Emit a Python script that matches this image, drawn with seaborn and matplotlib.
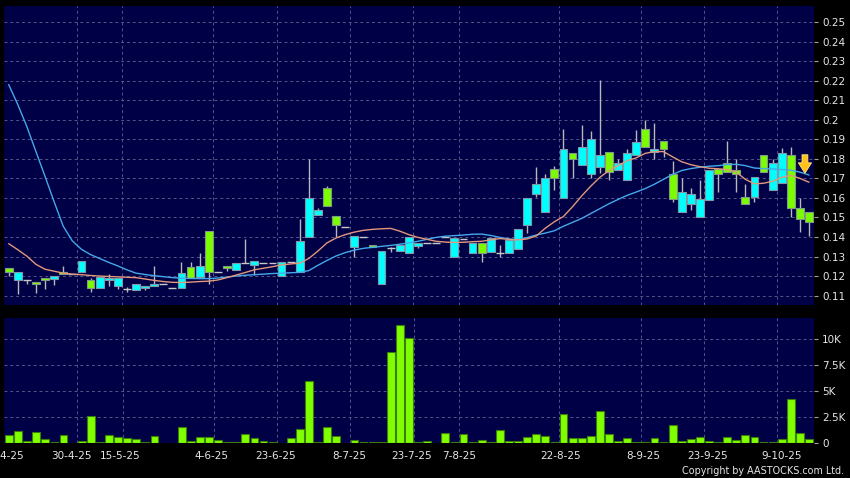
import numpy as np
import seaborn as sns
import matplotlib
matplotlib.use("Agg")
import matplotlib.pyplot as plt

# daily candles, oldest first (price in HK$)
opens = [0.124, 0.118, 0.118, 0.117, 0.119, 0.1187, 0.122, 0.121, 0.122, 0.118,
         0.114, 0.118, 0.115, 0.1133, 0.113, 0.1138, 0.1148, 0.1158, 0.1138, 0.1138,
         0.1247, 0.1197, 0.1431, 0.122, 0.1252, 0.123, 0.1266, 0.1255, 0.1266, 0.1266,
         0.120, 0.127, 0.122, 0.140, 0.1514, 0.165, 0.1506, 0.145, 0.1348, 0.140,
         0.1358, 0.1158, 0.1345, 0.133, 0.1317, 0.1356, 0.137, 0.137, 0.1398, 0.1296,
         0.1388, 0.1317, 0.1368, 0.1325, 0.132, 0.1317, 0.1337, 0.1462, 0.162, 0.1527,
         0.1747, 0.160, 0.183, 0.1767, 0.1722, 0.1757, 0.1837, 0.1743, 0.1692, 0.182,
         0.1951, 0.1837, 0.189, 0.1721, 0.1527, 0.157, 0.1504, 0.159, 0.1748, 0.1777,
         0.1741, 0.1606, 0.1606, 0.1818, 0.1641, 0.1675, 0.1818, 0.1547, 0.1527]
closes = [0.122, 0.122, 0.118, 0.116, 0.118, 0.120, 0.121, 0.121, 0.1276, 0.114,
          0.1196, 0.119, 0.119, 0.1133, 0.1158, 0.1148, 0.116, 0.1158, 0.1138, 0.1218,
          0.119, 0.125, 0.122, 0.122, 0.124, 0.1266, 0.1266, 0.1276, 0.1266, 0.1266,
          0.1274, 0.127, 0.1378, 0.160, 0.1538, 0.1557, 0.146, 0.145, 0.1407, 0.140,
          0.1348, 0.1329, 0.1345, 0.1358, 0.140, 0.137, 0.137, 0.137, 0.1398, 0.1397,
          0.1388, 0.1368, 0.1317, 0.1397, 0.132, 0.1385, 0.144, 0.1598, 0.167, 0.170,
          0.1704, 0.185, 0.180, 0.1859, 0.190, 0.1818, 0.1734, 0.1777, 0.1828, 0.1888,
          0.1859, 0.1849, 0.1849, 0.1595, 0.1629, 0.162, 0.1596, 0.1743, 0.1722, 0.1734,
          0.1722, 0.1569, 0.1709, 0.1733, 0.1777, 0.1828, 0.1547, 0.1491, 0.1479]
highs = [0.124, 0.122, 0.118, 0.117, 0.119, 0.120, 0.125, 0.121, 0.1276, 0.119,
         0.1196, 0.121, 0.119, 0.1143, 0.1158, 0.1148, 0.1252, 0.1158, 0.1138, 0.127,
         0.127, 0.132, 0.1431, 0.122, 0.1252, 0.1266, 0.139, 0.1276, 0.1266, 0.1266,
         0.1274, 0.127, 0.149, 0.180, 0.155, 0.166, 0.1506, 0.145, 0.1407, 0.140,
         0.1358, 0.1329, 0.1351, 0.1358, 0.140, 0.137, 0.137, 0.137, 0.1398, 0.1397,
         0.1388, 0.1368, 0.1368, 0.1397, 0.136, 0.1385, 0.144, 0.1598, 0.1757, 0.172,
         0.1763, 0.1953, 0.183, 0.1973, 0.1944, 0.2203, 0.1837, 0.180, 0.185, 0.195,
         0.200, 0.1985, 0.189, 0.179, 0.170, 0.165, 0.169, 0.1743, 0.1748, 0.189,
         0.180, 0.167, 0.1709, 0.1818, 0.180, 0.1854, 0.186, 0.160, 0.1527]
lows = [0.120, 0.111, 0.116, 0.1115, 0.1135, 0.1155, 0.121, 0.121, 0.122, 0.112,
        0.114, 0.115, 0.1136, 0.112, 0.113, 0.113, 0.1148, 0.1158, 0.1138, 0.1138,
        0.119, 0.1197, 0.1158, 0.122, 0.1228, 0.123, 0.1266, 0.1206, 0.1266, 0.1266,
        0.120, 0.127, 0.122, 0.140, 0.1514, 0.1557, 0.140, 0.145, 0.130, 0.140,
        0.1348, 0.1158, 0.1325, 0.133, 0.1317, 0.1345, 0.137, 0.137, 0.1398, 0.1296,
        0.1388, 0.1317, 0.1274, 0.1325, 0.130, 0.1317, 0.1337, 0.142, 0.1606, 0.1527,
        0.164, 0.160, 0.170, 0.1767, 0.170, 0.1726, 0.169, 0.1743, 0.1692, 0.182,
        0.1859, 0.180, 0.181, 0.158, 0.1527, 0.154, 0.1504, 0.159, 0.163, 0.1734,
        0.163, 0.1569, 0.158, 0.1733, 0.1641, 0.1675, 0.150, 0.1423, 0.1407]

# volume in thousands of shares
volumes = [0.83, 1.15, 0.22, 1.06, 0.42, 0.13, 0.83, 0.0, 0.22, 2.62,
           0.1, 0.8, 0.61, 0.54, 0.42, 0.13, 0.74, 0.0, 0.0, 1.54,
           0.25, 0.61, 0.64, 0.29, 0.13, 0.13, 0.87, 0.51, 0.18, 0.13,
           0.05, 0.54, 1.35, 6.02, 0.1, 1.54, 0.67, 0.0, 0.29, 0.1,
           0.1, 0.1, 8.8, 11.35, 10.15, 0.1, 0.22, 0.0, 0.96, 0.15,
           0.87, 0.1, 0.32, 0.1, 1.28, 0.22, 0.22, 0.58, 0.9, 0.71,
           0.1, 2.79, 0.54, 0.51, 0.71, 3.1, 0.93, 0.22, 0.48, 0.1,
           0.1, 0.54, 0.1, 1.73, 0.22, 0.42, 0.64, 0.25, 0.1, 0.58,
           0.29, 0.8, 0.58, 0.15, 0.15, 0.42, 4.29, 0.96, 0.42]

# moving averages as drawn on the chart
ma_short = [0.1366, 0.1335, 0.1302, 0.126, 0.1235, 0.1225, 0.1215, 0.121, 0.1207, 0.1203,
            0.12, 0.1198, 0.1196, 0.1194, 0.1192, 0.1185, 0.1178, 0.1172, 0.1168, 0.1167,
            0.1169, 0.1172, 0.1174, 0.118, 0.1192, 0.1205, 0.1218, 0.1232, 0.124, 0.1248,
            0.1257, 0.1262, 0.1266, 0.129, 0.1328, 0.137, 0.1395, 0.1412, 0.1425, 0.1434,
            0.1439, 0.1442, 0.1444, 0.143, 0.1412, 0.1398, 0.1388, 0.1378, 0.1374, 0.1372,
            0.1373, 0.1376, 0.1378, 0.1385, 0.1392, 0.1388, 0.1385, 0.139, 0.1405, 0.1445,
            0.1478, 0.1505, 0.1555, 0.161, 0.166, 0.1705, 0.174, 0.1765, 0.179, 0.1805,
            0.1828, 0.1837, 0.1837, 0.181, 0.1785, 0.177, 0.176, 0.1752, 0.1749, 0.1745,
            0.1732, 0.1695, 0.1672, 0.1675, 0.1685, 0.1705, 0.1715, 0.170, 0.168]
ma_long = [0.218, 0.2078, 0.1965, 0.1837, 0.171, 0.158, 0.1455, 0.138, 0.1337, 0.131,
           0.129, 0.127, 0.1252, 0.1232, 0.1215, 0.1208, 0.1202, 0.1197, 0.1192, 0.1189,
           0.1188, 0.1187, 0.1187, 0.119, 0.1195, 0.12, 0.1204, 0.1207, 0.121, 0.1213,
           0.1215, 0.1217, 0.1219, 0.1228, 0.1255, 0.128, 0.1303, 0.132, 0.1333, 0.1342,
           0.1347, 0.1352, 0.1357, 0.1363, 0.137, 0.1378, 0.1388, 0.1398, 0.1404, 0.1407,
           0.141, 0.1414, 0.1415, 0.1408, 0.1398, 0.139, 0.1386, 0.1397, 0.141, 0.142,
           0.1432, 0.1455, 0.1475, 0.1495, 0.152, 0.1545, 0.157, 0.1592, 0.1613, 0.163,
           0.1648, 0.167, 0.1695, 0.172, 0.174, 0.175, 0.1757, 0.1762, 0.1765, 0.177,
           0.1772, 0.1765, 0.1753, 0.175, 0.1748, 0.1745, 0.1742, 0.1732, 0.1717]

date_labels = ["14-4-25", "30-4-25", "15-5-25", "4-6-25", "23-6-25", "8-7-25",
               "23-7-25", "7-8-25", "22-8-25", "8-9-25", "23-9-25", "9-10-25"]
date_ticks = [-0.55, 6.9, 12.2, 22.3, 29.35, 37.45, 44.3, 49.5, 60.7, 69.8, 76.85, 84.95]
grid_x = [7.5, 12.5, 22.5, 29.5, 37.5, 44.5, 49.5, 60.5, 69.5, 76.5, 84.5]

price_ticks = [0.11, 0.12, 0.13, 0.14, 0.15, 0.16, 0.17, 0.18, 0.19, 0.20,
               0.21, 0.22, 0.23, 0.24, 0.25]
price_labels = ["0.11", "0.12", "0.13", "0.14", "0.15", "0.16", "0.17", "0.18", "0.19", "0.2",
                "0.21", "0.22", "0.23", "0.24", "0.25"]
vol_ticks = [0, 2.5, 5, 7.5, 10]
vol_labels = ["0", "2.5K", "5K", "7.5K", "10K"]

NAVY = "#000046"
GRID = "#55558a"
TXT = "#e6e6e6"

sns.set_style("dark", {"axes.facecolor": NAVY, "figure.facecolor": "black"})
plt.rcParams["font.family"] = ["DejaVu Sans"]

o = np.array(opens)
c = np.array(closes)
h = np.array(highs)
l = np.array(lows)
x = np.arange(len(o))

fig = plt.figure(figsize=(8.5, 4.78), dpi=100, facecolor="black")
ax = fig.add_axes([4 / 850, 173 / 478, 810.3 / 850, 299 / 478])
axv = fig.add_axes([4 / 850, 34.7 / 478, 810.3 / 850, 125 / 478])

for a in (ax, axv):
    a.set_facecolor(NAVY)
    a.set_xlim(-0.513, 88.58)
    for s in a.spines.values():
        s.set_visible(False)
    for gx in grid_x:
        a.axvline(gx, color=GRID, lw=0.7, ls=(0, (3, 3)), zorder=1)
    a.yaxis.tick_right()
    a.tick_params(axis="y", colors="#a0a0a0", labelcolor=TXT, labelsize=7.5,
                  length=3, width=0.8, pad=2.5, direction="out")

# price panel
for py in price_ticks:
    ax.axhline(py, color=GRID, lw=0.7, ls=(0, (3, 3)), zorder=1)
ax.vlines(x, l, h, color="#b8b8b8", lw=1, zorder=2)
up = c > o
down = c < o
flat = c == o
body_lo = np.minimum(o, c)
body_h = np.abs(c - o)
ax.bar(x[up], body_h[up], bottom=body_lo[up], width=0.86, color="#00ffff",
       edgecolor="#7f9aa6", lw=0.8, zorder=3)
ax.bar(x[down], body_h[down], bottom=body_lo[down], width=0.86, color="#7cfc00",
       edgecolor="#7f9a86", lw=0.8, zorder=3)
ax.hlines(c[flat], x[flat] - 0.43, x[flat] + 0.43, color="#c8c8c8", lw=1, zorder=3)

sns.lineplot(x=x, y=ma_long, ax=ax, color="#45a8e8", lw=1.0, zorder=4)
sns.lineplot(x=x, y=ma_short, ax=ax, color="#e2987a", lw=1.0, zorder=4)

ax.annotate("", xy=(87.55, 0.1712), xytext=(87.55, 0.1835),
            arrowprops=dict(arrowstyle="simple,head_width=0.95,head_length=0.75,tail_width=0.42",
                            fc="#ffc21a", ec="#ffe680", lw=0.6),
            zorder=6)

ax.set_ylim(0.1052, 0.2582)
ax.set_yticks(price_ticks)
ax.set_yticklabels(price_labels)
ax.set_xticks([])
ax.set_xlabel("")
ax.set_ylabel("")

# volume panel
for vy in vol_ticks[1:]:
    axv.axhline(vy, color=GRID, lw=0.7, ls=(0, (3, 3)), zorder=1)
axv.bar(x, volumes, width=0.86, color="#80ff00", edgecolor="#3a7d0a", lw=0.8, zorder=3)
axv.set_ylim(0, 12.02)
axv.set_yticks(vol_ticks)
axv.set_yticklabels(vol_labels)
axv.set_xticks(date_ticks)
axv.set_xticklabels(date_labels)
axv.tick_params(axis="x", colors="#a0a0a0", labelcolor=TXT, labelsize=7.5,
                length=3, width=0.8, pad=2.5, direction="out")
axv.set_xlabel("")
axv.set_ylabel("")

fig.text(844 / 850, 1 - 471 / 478, "Copyright by AASTOCKS.com Ltd.", ha="right",
         va="center", color=TXT, fontsize=6.9)

fig.savefig("out.png", dpi=100, facecolor="black")
